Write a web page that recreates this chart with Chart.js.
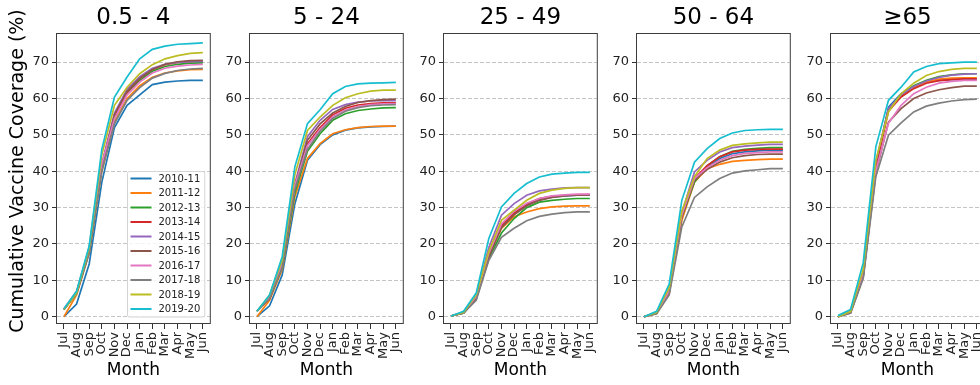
<!DOCTYPE html>
<html>
<head>
<meta charset="utf-8">
<script src="https://cdn.jsdelivr.net/npm/chart.js@4.4.1/dist/chart.umd.min.js"></script>
<style>
  html, body { margin: 0; padding: 0; background: #fff; }
  #wrap { position: relative; width: 980px; height: 385px; overflow: hidden; }
  #wrap canvas { position: absolute; top: 0; }
</style>
</head>
<body>
<div id="wrap"></div>
<script>
const months = ["Jul", "Aug", "Sep", "Oct", "Nov", "Dec", "Jan", "Feb", "Mar", "Apr", "May", "Jun"];
const seasons = ["2010-11", "2011-12", "2012-13", "2013-14", "2014-15", "2015-16", "2016-17", "2017-18", "2018-19", "2019-20"];
const ageGroups = ["0.5 - 4", "5 - 24", "25 - 49", "50 - 64", "\u226565"];
const yTicks = [0, 10, 20, 30, 40, 50, 60, 70];
const yLabel = "Cumulative Vaccine Coverage (%)";

// one row per season, Jul..Jun
const cov0to4 = [
  [0, 3.5, 14.5, 37, 52, 58.1, 61, 63.8, 64.5, 64.8, 65, 65],
  [0, 6, 17.5, 40, 53.5, 60, 63.5, 65.8, 67, 67.6, 67.9, 68],
  [2, 6.5, 18, 41, 54.5, 61.5, 65, 67.5, 68.8, 69.4, 69.7, 69.8],
  [2, 6.5, 18, 41.5, 55, 61.8, 65.5, 68, 69.3, 69.9, 70.2, 70.3],
  [2, 6.8, 18.5, 42, 56, 62.5, 66, 68.3, 69.4, 69.9, 70.1, 70.2],
  [2, 6.5, 18, 41.5, 55.5, 62, 65.5, 68, 69.4, 70.1, 70.4, 70.5],
  [2.2, 7, 19, 42, 54.5, 61, 64.5, 67, 68.3, 68.9, 69.2, 69.4],
  [2, 6.3, 17.5, 40, 53, 59.5, 63, 65.6, 66.9, 67.7, 68.1, 68.3],
  [2, 6.5, 19, 44.5, 58.1, 63.1, 66.8, 69.3, 70.9, 71.8, 72.4, 72.6],
  [2.2, 7, 19.5, 46, 60.4, 65.9, 70.9, 73.5, 74.4, 74.9, 75.1, 75.3]
];
const cov5to24 = [
  [0, 3, 11.5, 31, 43, 47.3, 50, 51.3, 51.9, 52.2, 52.3, 52.4],
  [0, 4.5, 13, 33, 43.5, 47.6, 50.3, 51.4, 52, 52.3, 52.4, 52.4],
  [1.5, 5, 13.5, 34, 45.5, 50.3, 54, 55.8, 56.7, 57.1, 57.4, 57.5],
  [1.5, 5, 14, 35.5, 47.5, 52, 55.5, 57.3, 58.2, 58.6, 58.8, 58.8],
  [1.5, 5.5, 14.5, 36.5, 49.5, 54, 57, 58.3, 59, 59.3, 59.4, 59.4],
  [1.5, 5.3, 14, 36, 48.5, 53, 56, 57.8, 58.9, 59.4, 59.7, 59.8],
  [1.5, 5.5, 14.5, 36, 47, 51.5, 55, 56.8, 57.8, 58.3, 58.5, 58.6],
  [1.5, 5, 13.5, 35, 46, 51, 54.5, 56.5, 57.5, 58, 58.2, 58.3],
  [1.5, 6, 15.5, 39, 51.2, 54.9, 58.1, 60.2, 61.3, 62, 62.3, 62.3],
  [1.5, 6, 16.5, 41.2, 53.1, 56.9, 61.3, 63.3, 64, 64.2, 64.3, 64.4]
];
const cov25to49 = [
  [0.2, 1, 5, 17, 25, 28.5, 30.8, 32.2, 32.9, 33.2, 33.4, 33.5],
  [0.2, 1, 5, 17, 24.3, 27.5, 28.8, 29.7, 30.2, 30.4, 30.5, 30.5],
  [0.2, 1, 5, 16, 23, 27, 30, 31.5, 32, 32.3, 32.5, 32.5],
  [0.2, 1.2, 5.5, 17.5, 25, 28.5, 31, 32.5, 33.1, 33.4, 33.5, 33.6],
  [0.2, 1.2, 6, 19, 27.9, 31.1, 33.4, 34.6, 35.1, 35.4, 35.5, 35.5],
  [0.2, 1, 5, 16.5, 24.5, 28, 30.5, 32, 32.8, 33.2, 33.4, 33.5],
  [0.2, 1.2, 5.5, 17.5, 25.5, 29, 31.2, 32.5, 33.2, 33.5, 33.7, 33.7],
  [0.2, 1, 4.5, 15.5, 21.8, 24.3, 26.4, 27.6, 28.2, 28.6, 28.8, 28.8],
  [0.2, 1.2, 6, 18, 26.5, 29.3, 32, 33.9, 34.8, 35.3, 35.5, 35.5],
  [0.2, 1.5, 6.5, 21.5, 30.2, 33.9, 36.6, 38.4, 39.2, 39.5, 39.7, 39.7]
];
const cov50to64 = [
  [0, 1, 6.5, 27, 37.5, 41, 43.5, 44.8, 45.3, 45.6, 45.8, 45.8],
  [0, 0.8, 6.5, 26.5, 37, 40.7, 41.9, 42.7, 43, 43.2, 43.3, 43.3],
  [0, 1, 7, 27.5, 37, 41.5, 44, 45.5, 46, 46.3, 46.5, 46.5],
  [0, 1, 7, 28, 38, 41.5, 44, 45.3, 45.8, 46, 46.1, 46.1],
  [0, 1.2, 7.5, 28.5, 39.8, 43, 45.3, 46.5, 46.9, 47.2, 47.4, 47.4],
  [0, 1, 7, 27.5, 37.5, 40.5, 42.5, 43.7, 44.3, 44.6, 44.7, 44.7],
  [0, 1, 7, 28, 38, 41, 43, 44.3, 44.9, 45.1, 45.3, 45.3],
  [0, 0.8, 6, 24.7, 32.8, 35.7, 38, 39.5, 40.1, 40.4, 40.7, 40.7],
  [0, 1.2, 8, 29, 38.5, 43.5, 45.8, 47.1, 47.5, 47.8, 48, 48],
  [0, 1.5, 9, 32, 42.5, 46.2, 49, 50.5, 51.2, 51.4, 51.5, 51.5]
];
const cov65plus = [
  [0, 1.5, 11, 41, 57.6, 61.3, 63.3, 64.5, 65, 65.2, 65.3, 65.3],
  [0, 1.5, 12, 42, 57, 60.5, 63, 64.5, 65.3, 65.6, 65.7, 65.7],
  [0, 1.5, 12, 42, 57, 61, 63.5, 65, 66, 66.5, 66.8, 66.8],
  [0, 1.3, 11.5, 41, 56.5, 60.4, 62.7, 64.2, 64.9, 65.2, 65.4, 65.4],
  [0, 1.5, 12, 42.5, 57.2, 61, 63.3, 64.8, 65.8, 66.4, 66.7, 66.8],
  [0, 1, 11, 39.5, 53.5, 57.2, 60, 61.5, 62.4, 63, 63.4, 63.4],
  [0, 1.5, 12, 40, 53.2, 58.1, 61.3, 63.1, 64.2, 64.7, 65, 65],
  [0, 1, 10.5, 38.5, 49.9, 53.3, 56.3, 57.9, 58.7, 59.3, 59.7, 59.8],
  [0, 1.5, 13, 43, 56.3, 61.3, 64.2, 66.3, 67.4, 68, 68.3, 68.3],
  [0.3, 2, 14.8, 46.7, 59.5, 63.1, 67.3, 68.8, 69.6, 69.8, 70, 70]
];
const panelData = [cov0to4, cov5to24, cov25to49, cov50to64, cov65plus];

const colors = ["#1f77b4", "#ff7f0e", "#2ca02c", "#d62728", "#9467bd", "#8c564b", "#e377c2", "#7f7f7f", "#bcbd22", "#17becf"];
const FONT = "'DejaVu Sans', sans-serif";
const plotLefts = [57, 250, 444, 637, 831];
const plotW = 157;

// matplotlib-style box round the axes
const framePlugin = {
  id: "frame",
  afterDraw(chart) {
    const a = chart.chartArea;
    const ctx = chart.ctx;
    ctx.save();
    ctx.strokeStyle = "#3c3c3c";
    ctx.lineWidth = 1;
    ctx.strokeRect(a.left - 0.5, a.top + 0.5, a.right - a.left + 1, a.bottom - a.top - 1);
    ctx.restore();
  }
};

// the shared y label sits a bit higher than the axes centre in the original
const sideLabel = {
  id: "sideLabel",
  afterDraw(chart, args, opts) {
    if (!opts.text) return;
    const ctx = chart.ctx;
    ctx.save();
    ctx.font = "19px " + FONT;
    ctx.fillStyle = "#000";
    ctx.textAlign = "center";
    ctx.textBaseline = "middle";
    ctx.translate(18, 171);
    ctx.rotate(-Math.PI / 2);
    ctx.fillText(opts.text, 0, 0);
    ctx.restore();
  }
};

// legend sitting inside the axes, lower right
const insetLegend = {
  id: "insetLegend",
  afterDraw(chart, args, opts) {
    if (!opts.show) return;
    const ctx = chart.ctx;
    const a = chart.chartArea;
    const items = chart.data.datasets;
    ctx.save();
    ctx.font = "10px " + FONT;
    const textW = Math.max(...items.map(d => ctx.measureText(d.label).width));
    const rowH = 14.5;
    const w = 3.5 + 21 + 7 + textW + 4;
    const h = 15 + rowH * (items.length - 1);
    const x = a.right - 5.5 - w;
    const y = a.bottom - 7.5 - h;

    ctx.fillStyle = "rgba(255,255,255,0.8)";
    ctx.strokeStyle = "#d4d4d4";
    ctx.lineWidth = 1;
    ctx.beginPath();
    ctx.roundRect(x + 0.5, y + 0.5, w, h, 2);
    ctx.fill();
    ctx.stroke();

    items.forEach((d, i) => {
      const cy = y + 7.5 + rowH * i;
      ctx.strokeStyle = d.borderColor;
      ctx.lineWidth = 2;
      ctx.beginPath();
      ctx.moveTo(x + 3.5, cy);
      ctx.lineTo(x + 24.5, cy);
      ctx.stroke();
      ctx.fillStyle = "#222";
      ctx.textBaseline = "middle";
      ctx.fillText(d.label, x + 31.5, cy + 0.5);
    });
    ctx.restore();
  }
};

const wrap = document.getElementById("wrap");

function buildPanel(k) {
  const yW = k === 0 ? 57 : 40;
  const canvas = document.createElement("canvas");
  canvas.width = yW + plotW + 8;
  canvas.height = 385;
  canvas.style.left = (plotLefts[k] - yW) + "px";
  wrap.appendChild(canvas);

  const datasets = seasons.map((s, i) => ({
    label: s,
    data: panelData[k][i].map((v, m) => ({ x: m, y: v })),
    borderColor: colors[i],
    backgroundColor: colors[i],
    borderWidth: 1.7,
    pointRadius: 0,
    tension: 0,
    order: seasons.length - i
  }));

  new Chart(canvas, {
    type: "line",
    data: { datasets },
    options: {
      responsive: false,
      animation: false,
      devicePixelRatio: 1,
      layout: { padding: { left: 0, right: 8, top: 0, bottom: 0 } },
      plugins: {
        legend: { display: false },
        tooltip: { enabled: false },
        title: {
          display: true,
          text: ageGroups[k],
          fullSize: false,
          color: "#000",
          font: { family: FONT, size: 23, weight: "normal" },
          padding: { top: 4, bottom: 1.4 }
        },
        insetLegend: { show: k === 0 },
        sideLabel: { text: k === 0 ? yLabel : "" }
      },
      scales: {
        x: {
          type: "linear",
          min: -0.55,
          max: 11.55,
          afterBuildTicks: s => { s.ticks = months.map((m, i) => ({ value: i })); },
          afterFit: s => { s.height = 61; },
          ticks: {
            autoSkip: false,
            minRotation: 90,
            maxRotation: 90,
            padding: 3,
            color: "#222",
            font: { family: FONT, size: 13 },
            callback: v => months[v]
          },
          grid: { drawOnChartArea: false, drawTicks: true, tickLength: 5, tickColor: "#333", tickWidth: 1 },
          border: { display: false },
          title: {
            display: true,
            text: "Month",
            color: "#000",
            font: { family: FONT, size: 17 },
            padding: { top: 0, bottom: 4 }
          }
        },
        y: {
          min: -2,
          max: 78,
          afterBuildTicks: s => { s.ticks = yTicks.map(v => ({ value: v })); },
          afterFit: s => { s.width = yW; },
          ticks: { padding: 3, color: "#222", font: { family: FONT, size: 13 } },
          grid: { color: "#c4c4c4", lineWidth: 1, tickLength: 5, tickColor: "#333", tickWidth: 1, tickBorderDash: [] },
          border: { display: false, dash: [4, 2] }
        }
      }
    },
    plugins: [framePlugin, insetLegend, sideLabel]
  });
}

for (let k = 0; k < ageGroups.length; k++) buildPanel(k);
</script>
</body>
</html>
